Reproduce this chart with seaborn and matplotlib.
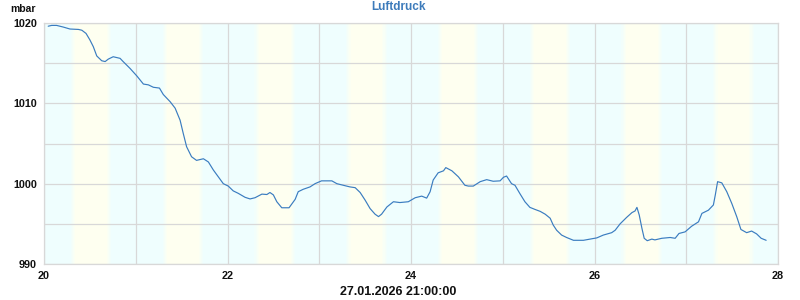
import numpy as np
import pandas as pd
import matplotlib
matplotlib.use("Agg")
import matplotlib.pyplot as plt
from matplotlib.colors import to_rgb
import seaborn as sns

# ---- data: hours since 20.01.2026 00:00 and air pressure (mbar) ----
hours = [1.1, 2.0, 3.3, 5.0, 6.8, 9.0, 9.9, 11.0, 12.0, 12.9, 13.8, 15.1, 16.0, 16.8,
         18.1, 19.9, 20.7, 22.5, 24.3, 26.0, 27.3, 28.6, 30.2, 31.2, 33.0, 34.3, 35.6,
         36.4, 37.3, 38.6, 39.9, 41.7, 43.0, 44.3, 45.6, 46.9, 48.2, 49.5, 50.8, 52.6,
         53.9, 55.2, 57.0, 58.3, 59.1, 60.0, 60.9, 62.2, 64.1, 65.7, 66.5, 67.8, 69.6,
         70.9, 72.6, 75.3, 76.6, 78.3, 80.0, 81.4, 82.7, 84.0, 85.3, 86.6, 87.5, 88.3,
         89.7, 91.4, 93.1, 95.3, 97.1, 98.8, 100.1, 101.0, 101.8, 103.1, 104.5, 105.1,
         106.7, 108.4, 110.1, 111.0, 112.3, 114.1, 115.8, 117.5, 119.3, 120.2, 121.0,
         122.3, 123.2, 124.5, 125.8, 127.1, 128.4, 129.8, 131.1, 132.4, 133.2, 134.1,
         135.4, 136.7, 138.5, 141.1, 142.8, 144.6, 146.3, 148.5, 149.4, 150.7, 152.4,
         153.8, 154.6, 155.1, 155.7, 156.4, 157.0, 157.8, 159.0, 159.8, 161.6, 163.8,
         165.1, 166.1, 167.7, 169.4, 171.2, 172.1, 173.8, 175.1, 175.6, 176.2, 177.3,
         178.6, 179.9, 181.2, 182.3, 183.8, 185.1, 186.4, 187.6, 188.9]
pressure = [1019.6, 1019.7, 1019.7, 1019.5, 1019.25, 1019.2, 1019.1, 1018.7, 1017.9,
            1017.05, 1015.9, 1015.3, 1015.2, 1015.5, 1015.8, 1015.6, 1015.2, 1014.35,
            1013.4, 1012.4, 1012.3, 1012.0, 1011.9, 1011.1, 1010.2, 1009.4, 1007.9,
            1006.3, 1004.6, 1003.35, 1002.9, 1003.1, 1002.7, 1001.7, 1000.85, 1000.0,
            999.7, 999.1, 998.8, 998.3, 998.1, 998.25, 998.7, 998.65, 998.9, 998.6,
            997.75, 997.0, 997.0, 998.05, 999.0, 999.3, 999.6, 1000.0, 1000.35, 1000.35,
            1000.0, 999.8, 999.6, 999.5, 998.9, 997.95, 996.9, 996.2, 995.9, 996.2,
            997.1, 997.75, 997.65, 997.75, 998.25, 998.45, 998.2, 999.0, 1000.45,
            1001.35, 1001.6, 1002.0, 1001.6, 1000.85, 999.8, 999.7, 999.7, 1000.25,
            1000.5, 1000.3, 1000.35, 1000.8, 1000.95, 1000.0, 999.8, 998.75, 997.75,
            997.05, 996.8, 996.55, 996.2, 995.7, 994.85, 994.2, 993.6, 993.3, 992.95,
            992.95, 993.1, 993.25, 993.6, 993.9, 994.2, 995.0, 995.8, 996.4, 996.6,
            997.05, 996.1, 994.45, 993.2, 992.9, 993.1, 993.0, 993.2, 993.3, 993.2,
            993.8, 994.0, 994.7, 995.25, 996.3, 996.7, 997.35, 998.6, 1000.25, 1000.1,
            999.0, 997.55, 995.9, 994.3, 993.9, 994.1, 993.75, 993.2, 992.95]
start_day = 20
day_ticks = [20, 21, 22, 23, 24, 25, 26, 27, 28]
day_labels = ["20", "", "22", "", "24", "", "26", "", "28"]
y_ticks = [990, 1000, 1010, 1020]
title = "Luftdruck"
unit = "mbar"
timestamp = "27.01.2026 21:00:00"

df = pd.DataFrame({"day": [start_day + h / 24 for h in hours], "mbar": pressure})

sns.set_theme(style="white")
plt.rcParams["font.family"] = ["Liberation Sans", "DejaVu Sans"]

fig = plt.figure(figsize=(8, 3), dpi=100)
ax = fig.add_axes([44 / 800, 1 - 264 / 300, (778 - 44) / 800, (264 - 23) / 300])

night = "#effefe"
day_c = "#fefff0"
grid_c = "#d8d8d8"
ax.set_facecolor(night)

# daylight bands with soft edges
sunrise, sunset = 8.2 / 24, 16.5 / 24
c0, c1 = np.array(to_rgb(night)), np.array(to_rgb(day_c))
steps = 4
w = 0.012
for d in range(20, 28):
    ax.axvspan(d + sunrise, d + sunset, color=day_c, lw=0, zorder=0)
    for i in range(steps):
        f = (i + 1) / (steps + 1)
        col = c0 + (c1 - c0) * f
        ax.axvspan(d + sunrise - w * (steps - i), d + sunrise - w * (steps - i - 1),
                   color=col, lw=0, zorder=0)
        ax.axvspan(d + sunset + w * (steps - i - 1), d + sunset + w * (steps - i),
                   color=col, lw=0, zorder=0)

sns.lineplot(data=df, x="day", y="mbar", ax=ax, color="#3a7cc0", linewidth=0.85,
             estimator=None, sort=False, zorder=3)

ax.set_xlim(20, 28)
ax.set_ylim(990, 1020)
ax.set_xticks(day_ticks)
ax.set_xticklabels(day_labels)
ax.set_yticks(y_ticks)
ax.set_yticks([995, 1005, 1015], minor=True)
ax.grid(True, which="both", color=grid_c, linewidth=0.9, zorder=1)
ax.set_axisbelow(True)
ax.tick_params(axis="both", which="both", length=0)
ax.tick_params(axis="y", pad=5)
ax.tick_params(axis="x", pad=5)
for lab in ax.get_xticklabels() + ax.get_yticklabels():
    lab.set_fontsize(7.8)
    lab.set_fontweight("bold")
    lab.set_color("#111111")
ax.set_xlabel("")
ax.set_ylabel("")
for s in ax.spines.values():
    s.set_color(grid_c)
    s.set_linewidth(0.9)

fig.text(399 / 800, 1 - 7 / 300, title, ha="center", va="center", fontsize=8.5,
         fontweight="bold", color="#3d7bbb")
fig.text(10 / 800, 1 - 9 / 300, unit, ha="left", va="center", fontsize=7.5,
         fontweight="bold", color="#111111")
fig.text(398 / 800, 1 - 292 / 300, timestamp, ha="center", va="center", fontsize=9,
         fontweight="bold", color="#111111")

fig.savefig("out.png", dpi=100)
